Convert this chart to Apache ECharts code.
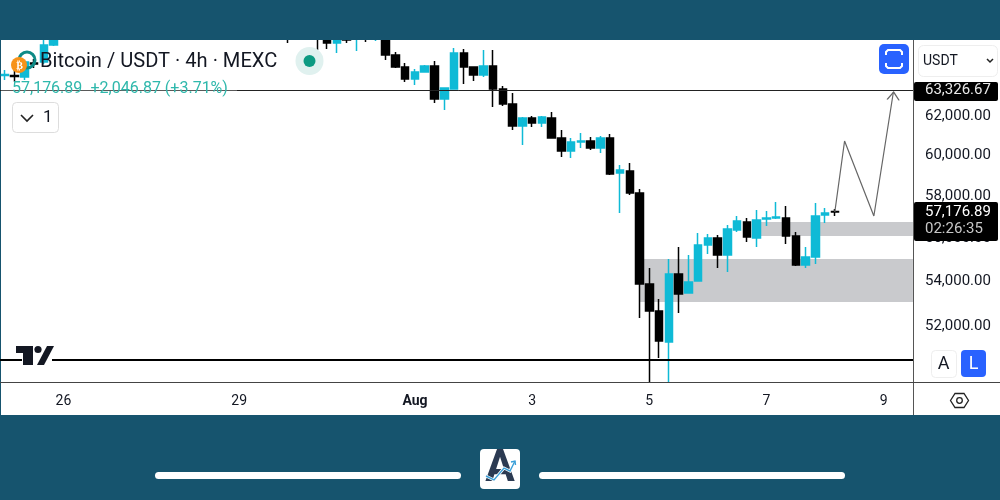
<!DOCTYPE html>
<html><head><meta charset="utf-8">
<style>html,body{margin:0;padding:0;background:#16546e}#c{width:1000px;height:500px}</style>
<script src="https://cdn.jsdelivr.net/npm/echarts@6/dist/echarts.min.js"></script>
</head><body><div id="c"></div>
<script>
// Bars 6..28, 30, 31 sit above the visible window in the reference, so they stay empty (null).
const N = null;
const opens = [64120,64120,64037,64796,64850,65780,N,N,N,N,N,N,N,N,N,N,N,N,N,N,N,N,N,N,N,N,N,N,N,66610,N,N,66600,66610,65890,66610,66170,66500,66280,66500,65230,64577,63930,64306,64631,62866,63395,65340,64577,64145,64631,63395,62602,61457,61871,61612,61871,60841,60181,60637,60688,60333,60841,59080,59180,58096,53825,52618,51268,54280,53420,53960,55615,55942,55150,56320,56700,55942,56843,56890,56890,56037,54690,55057,57034,57200];
const closes = [64170,64065,64850,64740,65780,66330,N,N,N,N,N,N,N,N,N,N,N,N,N,N,N,N,N,N,N,N,N,N,N,66280,N,N,66300,65890,66610,66057,66610,66170,66610,65230,64577,63930,64306,64631,62866,63449,65340,64577,64145,64631,63395,62602,61457,61871,61612,61923,60841,60181,60637,60688,60333,60841,59031,59229,58096,53825,52618,51310,54280,53375,53915,55615,55942,55150,56367,56747,55990,56795,56890,56938,56037,54690,55057,56986,57130,57176.89];
const lows = [63876,63770,63876,64520,64740,65720,N,N,N,N,N,N,N,N,N,N,N,N,N,N,N,N,N,N,N,N,N,N,N,65890,N,N,65505,65560,65340,65890,65450,65950,66000,64957,64523,63770,63609,64306,62655,62288,63395,63662,63823,64037,62445,62497,61251,60485,61406,61406,60841,59879,59828,60333,60231,60080,58981,57130,57999,52310,49575,50582,49575,52531,53420,53960,55197,54552,54370,56226,55755,55522,56510,56843,55662,54644,54552,54735,56652,56986];
const highs = [64414,64414,64957,65010,66170,66500,N,N,N,N,N,N,N,N,N,N,N,N,N,N,N,N,N,N,N,N,N,N,N,66900,N,N,66900,66900,66900,66800,66800,66900,66900,66800,65395,64794,64468,64685,64903,63449,65616,65560,64577,65505,65505,63555,63182,61923,61975,61975,62184,61251,60841,61097,60892,60943,61045,59478,59578,58292,54552,53151,54965,55522,55150,56179,56132,56085,56557,56986,56890,57273,57225,57658,57465,56226,55522,57610,57370,57321];
const barCount = 94;
const dayTickIndex = [6,24,42,54,66,78,90];
const dayTickLabel = ['26','29','Aug','3','5','7','9'];
const priceTicks = [62000,60000,58000,56000,54000,52000];
const lastPrice = 57176.89;
const resistance = 63326.67;
const support = 50500;
const upperZone = [56700,56037];
const lowerZone = [54965,53017];
const pathIndex = [85,86,89,91];
const pathPrice = [57176.89,60688,56986,63235];

const categories = [];
for (let i = 0; i < barCount; i++) {
  const k = dayTickIndex.indexOf(i);
  categories.push(k >= 0 ? dayTickLabel[k] : '');
}
const candles = opens.map((o, i) => o === null ? ['-','-','-','-'] : [o, closes[i], lows[i], highs[i]]);

const UP = '#0fbad6', DN = '#000000', FONT = 'Roboto', INK = '#131722', BLUE = '#2962ff', BG = '#16546e';
const chart = echarts.init(document.getElementById('c'), null, {renderer:'canvas', width:1000, height:500});

chart.setOption({
  animation:false,
  backgroundColor:BG,
  grid:{left:-1.3, top:40, width:919.1, height:342, containLabel:false},
  xAxis:{type:'category', data:categories, boundaryGap:true,
    axisLine:{show:false}, axisTick:{show:false}, splitLine:{show:false},
    axisLabel:{show:true, interval:0, margin:12, hideOverlap:false, fontFamily:FONT, fontSize:14, color:INK,
      formatter:v => v === 'Aug' ? '{b|Aug}' : v,
      rich:{b:{fontWeight:'bold', fontFamily:FONT, fontSize:14, color:INK}}}},
  yAxis:{type:'log', logBase:10, min:49575, max:66057, show:false, splitLine:{show:false}},
  series:[
    {type:'candlestick', data:candles, barWidth:8, clip:true, z:3,
     itemStyle:{color:UP, color0:DN, borderColor:UP, borderColor0:DN, borderWidth:1.5},
     markArea:{silent:true, z:1, itemStyle:{color:'#c9cacd'}, data:[
       [{xAxis:77, yAxis:upperZone[0]},{xAxis:93, yAxis:upperZone[1]}],
       [{xAxis:65, yAxis:lowerZone[0]},{xAxis:93, yAxis:lowerZone[1]}]
     ]},
     markLine:{silent:true, symbol:'none', label:{show:false}, z:4, data:[
       {yAxis:resistance, lineStyle:{color:'#222', width:1, type:'solid'}},
       {yAxis:support, lineStyle:{color:'#000', width:2, type:'solid'}}
     ]}},
    {type:'line', z:5, silent:true, showSymbol:true, clip:false,
     lineStyle:{color:'#666', width:1.2},
     itemStyle:{color:'rgba(0,0,0,0)', borderColor:'#666', borderWidth:1.2},
     data:pathIndex.map((x, i) => ({
       value:[x, pathPrice[i]],
       symbol:i === pathIndex.length - 1 ? 'path://M0 10 L6 0 L12 10' : 'none',
       symbolSize:[12,8], symbolOffset:[0,4], symbolRotate:-4
     }))}
  ]
});

const py = v => chart.convertToPixel({yAxisIndex:0}, v);
const T = (x,y,text,size,color,extra) => ({type:'text', z:100, x, y:y+1.5, silent:true,
  style:Object.assign({text, fontFamily:FONT, fontSize:size, fill:color, verticalAlign:'middle'}, extra||{})});
const R = (x,y,w,h,fill,stroke,r,z) => ({type:'rect', z:z===undefined?100:z, silent:true, shape:{x,y,width:w,height:h,r:r||0},
  style:{fill, stroke:stroke||null, lineWidth:1}});
const L = (x1,y1,x2,y2,color,w) => ({type:'line', z:100, silent:true, shape:{x1,y1,x2,y2}, style:{stroke:color, lineWidth:w||1}});
const PL = (points,stroke,w) => ({type:'polyline', z:100, silent:true, shape:{points}, style:{fill:null, stroke, lineWidth:w||1}});
const PG = (points,fill,stroke,w) => ({type:'polygon', z:100, silent:true, shape:{points}, style:{fill:fill||null, stroke:stroke||null, lineWidth:w||1}});
const C = (cx,cy,r,fill,stroke,w) => ({type:'circle', z:100, silent:true, shape:{cx,cy,r}, style:{fill:fill||null, stroke:stroke||null, lineWidth:w||1}});

const els = [
  R(1,40,999,375,'#ffffff',null,0,-1),
  R(0,0,1000,40,BG),
  // right price panel
  R(914,40,86,342,'#ffffff'),
  R(914,383,86,32,'#ffffff'),
  L(913.5,40,913.5,415,'#555'),
  L(0,382.5,1000,382.5,'#444'),
];
priceTicks.forEach(v => els.push(T(925, py(v)-0.5, v.toLocaleString('en-US',{minimumFractionDigits:2}), 15, INK)));
els.push(
  R(914,82,84,19,'#000',null,2),
  T(925, 88.5, resistance.toLocaleString('en-US',{minimumFractionDigits:2}), 15, '#e8e8e8'),
  R(914,202,84,39,'#000',null,2),
  T(925, 210.5, lastPrice.toLocaleString('en-US',{minimumFractionDigits:2}), 15, '#ffffff'),
  T(925, 228, '02:26:35', 15, '#c8c8c8'),
  // USDT selector
  R(918.5,45.5,79,31,'#ffffff','#eeeeee',5),
  T(923, 60, 'USDT', 14, INK),
  PL([[987,59],[990,62],[993,59]], '#222', 1.5),
  // fullscreen button
  R(879,44,30,30,BLUE,null,5),
  PL([[886,55],[886,52],[888,50],[900,50],[902,52],[902,55]], '#fff', 2),
  PL([[886,63],[886,66],[888,68],[900,68],[902,66],[902,63]], '#fff', 2),
  // header
  C(27,60,8,null,'#0e8a86',3),
  C(19,65,8,'#f7931a'),
  T(16.3,64.5,'₿',10,'#fff',{fontWeight:'bold'}),
  T(40,60,'Bitcoin / USDT · 4h · MEXC',20.1,INK),
  C(309.5,61,14,'#e0f1ef'),
  C(309.5,61,6,'#0d9a82'),
  R(1,81,236,16,'rgba(255,255,255,0.25)'),
  T(12,87,'57,176.89',16,'#2fb8ac'),
  T(90.5,87,'+2,046.87 (+3.71%)',16,'#2fb8ac'),
  R(12.5,102.5,46,30,'#ffffff','#dddddd',4),
  PL([[21,115],[27,121],[33,115]], '#222', 1.6),
  T(43,116,'1',17,INK),
  // TradingView mark
  R(22,354,30,12,'#ffffff'),
  PG([[16,346],[33,346],[33,365],[23,365],[23,353],[16,353]],'#131722'),
  C(38,349.5,3.6,'#131722'),
  PG([[47,346],[54,346],[44,365],[37,365]],'#131722'),
  // A / L
  R(931.5,350.5,25,27,'#ffffff','#eeeeee',4),
  T(943.5,362.5,'A',18,INK,{align:'center'}),
  R(961,350,25,27,BLUE,null,4),
  T(973.5,362.5,'L',18,'#ffffff',{align:'center'}),
  // settings
  PG([[950.5,400.5],[955,393.5],[964,393.5],[968.5,400.5],[964,407.5],[955,407.5]],null,'#222',1.3),
  C(959.5,400.5,2.8,null,'#222',1.3),
  // footer
  R(155,472,306,7,'#ffffff',null,3.5),
  R(539,472,306,7,'#ffffff',null,3.5),
  R(480,449,40,40,'#ffffff',null,4),
  T(500,468.5,'A',44,'#2b3a52',{fontWeight:'bold',align:'center'}),
  PL([[486,476],[494,480],[504,468],[510,471],[515,461]], '#ffffff', 3),
  PL([[486,476],[494,480],[504,468],[510,471],[515,461]], '#3a9fd8', 1.4),
  PL([[511,462],[515,461],[515.5,465]], '#3a9fd8', 1.4)
);
chart.setOption({graphic:{elements:els}});
</script></body></html>
